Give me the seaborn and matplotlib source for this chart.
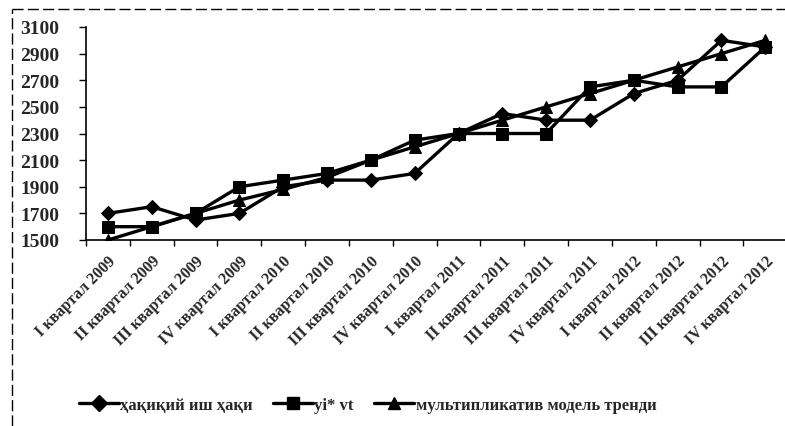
import seaborn as sns
import numpy as np
import matplotlib.pyplot as plt
import pandas as pd
from matplotlib.lines import Line2D

# quarters and the three series
quarters = ['I квартал 2009', 'II квартал 2009', 'III квартал 2009', 'IV квартал 2009',
            'I квартал 2010', 'II квартал 2010', 'III квартал 2010', 'IV квартал 2010',
            'I квартал 2011', 'II квартал 2011', 'III квартал 2011', 'IV квартал 2011',
            'I квартал 2012', 'II квартал 2012', 'III квартал 2012', 'IV квартал 2012']
actual = [1700, 1750, 1650, 1700, 1900, 1950, 1950, 2000,
          2300, 2450, 2400, 2400, 2600, 2700, 3000, 2950]
yi_vt = [1600, 1600, 1700, 1900, 1950, 2000, 2100, 2250,
         2300, 2300, 2300, 2650, 2700, 2650, 2650, 2950]
trend = [1500, 1600, 1700, 1800, 1880, 1970, 2100, 2200,
         2300, 2400, 2500, 2600, 2700, 2800, 2900, 3000]
series_names = ['ҳақиқий иш ҳақи', 'yi* vt', 'мультипликатив модель тренди']
markers = ['D', 's', '^']

df = pd.DataFrame({'x': np.arange(len(quarters))})
for name, vals in zip(series_names, [actual, yi_vt, trend]):
    df[name] = vals
long_df = df.melt(id_vars='x', var_name='series', value_name='value')

sns.set_style('white')
plt.rcParams['font.family'] = ['Liberation Serif', 'DejaVu Serif']

fig = plt.figure(figsize=(7.85, 4.27), dpi=100)
ax = fig.add_axes([86 / 785, 1 - 241 / 427, 699 / 785, 213 / 427])

for name, m in zip(series_names, markers):
    sub = long_df[long_df['series'] == name]
    sns.lineplot(data=sub, x='x', y='value', ax=ax, color='black', lw=2.4,
                 marker=m, markersize=8 if m != 'D' else 7, markeredgecolor='black',
                 legend=False)

ax.set_xlim(-0.45, 15.45)
ax.set_ylim(1500, 3100)
ax.set_yticks(np.arange(1500, 3101, 200))
ax.set_xticks(np.arange(len(quarters)))
ax.set_xticklabels(quarters, rotation=45, ha='right', rotation_mode='anchor',
                   fontsize=11.5, fontweight='bold')
ax.set_xticks(np.arange(-0.5, 15.5, 1), minor=True)
ax.tick_params(axis='x', which='major', length=0, pad=9)
ax.tick_params(axis='x', which='minor', length=4, width=1, direction='out', color='black', bottom=True)
ax.tick_params(axis='y', length=5, width=1, direction='out', color='black', left=True,
               labelsize=14, pad=14)
for t in ax.get_yticklabels():
    t.set_fontweight('bold')
ax.set_xlabel('')
ax.set_ylabel('')
sns.despine(ax=ax)
for s in ['left', 'bottom']:
    ax.spines[s].set_color('black')
    ax.spines[s].set_linewidth(1.2)

handles = [Line2D([], [], color='black', lw=2.4, marker=m, markersize=8) for m in markers]
fig.legend(handles, series_names, loc='center', bbox_to_anchor=(0.468, 0.05),
           ncol=3, frameon=False, prop={'size': 12, 'weight': 'bold'},
           handlelength=2.4, handletextpad=0.1, columnspacing=1.2, numpoints=1)

# dashed frame of the chart area (top and left edges visible)
fig.add_artist(Line2D([12 / 785, 1], [1 - 10 / 427, 1 - 10 / 427], transform=fig.transFigure,
                      color='black', lw=1, ls=(0, (8, 3))))
fig.add_artist(Line2D([12 / 785, 12 / 785], [0, 1 - 10 / 427], transform=fig.transFigure,
                      color='black', lw=1, ls=(0, (8, 3))))

fig.savefig('out.png', dpi=100)
